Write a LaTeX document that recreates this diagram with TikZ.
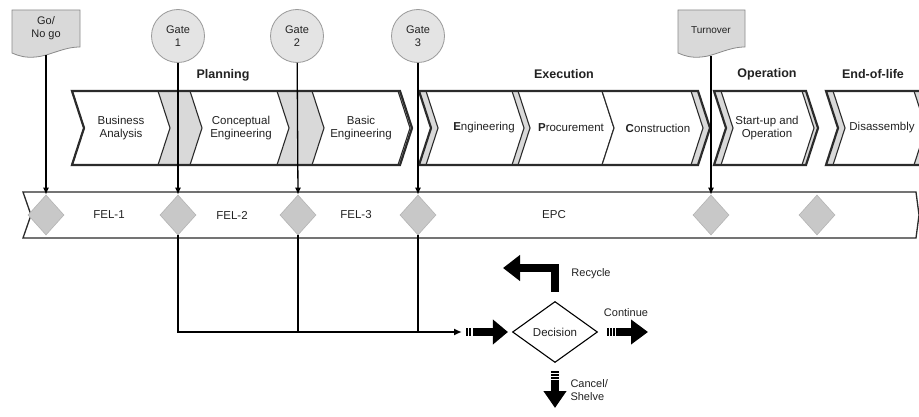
\documentclass[tikz,border=0pt]{standalone}
\usepackage{fontspec}
\setmainfont{Liberation Sans}
\usetikzlibrary{arrows.meta,shapes.geometric}
\definecolor{EdgeDark}{HTML}{2B2B2B}
\definecolor{GapGray}{HTML}{D9D9D9}
\definecolor{MarkGray}{HTML}{C8C8C8}
\definecolor{MarkBorder}{HTML}{B4B4B4}
\definecolor{GateFill}{HTML}{E4E4E4}
\definecolor{GateBorder}{HTML}{9A9A9A}
\definecolor{DocFill}{HTML}{D9D9D9}
\definecolor{DocBorder}{HTML}{8A8A8A}
\definecolor{TextColor}{HTML}{222222}
% chevron strip: style, left x, right x
\newcommand{\chevshape}[3]{%
	\path[#1] (#2,91) -- (#3,91) -- (#3+12,128) -- (#3,165) -- (#2,165) -- (#2+12,128) -- cycle;
}
% flowchart document sheet: left x, right x, top y, bottom y
\newcommand{\docshape}[4]{%
	\path[docbox] (#1,#3) -- (#2,#3) -- (#2,#4-6)
		.. controls ({#1+0.75*(#2-#1)},#4-6) and ({#1+0.55*(#2-#1)},#4+3) .. ({#1+0.35*(#2-#1)},#4+4)
		.. controls ({#1+0.2*(#2-#1)},#4+5) and ({#1+0.1*(#2-#1)},#4+3) .. (#1,#4) -- cycle;
}

\begin{document}
\begin{tikzpicture}[x=1pt,y=-1pt,
	every node/.style={text=TextColor},
	phasetext/.style={align=center, font=\fontsize{11.5}{13.5}\selectfont},
	grouplabel/.style={font=\bfseries\fontsize{12.5}{15}\selectfont},
	bandtext/.style={font=\fontsize{11.5}{13.5}\selectfont},
	sidetext/.style={font=\fontsize{11}{13}\selectfont},
	groupfill/.style={fill=GapGray},
	groupline/.style={draw=EdgeDark, line width=2.2pt, line join=miter},
	chevron/.style={fill=white, draw=EdgeDark, line width=1.1pt},
	milestone/.style={diamond, fill=MarkGray, draw=MarkBorder, line width=0.6pt, minimum width=36pt, minimum height=40pt, inner sep=0pt},
	gate/.style={circle, fill=GateFill, draw=GateBorder, line width=0.8pt, minimum size=53pt, inner sep=0pt, align=center, font=\fontsize{11}{13}\selectfont},
	docbox/.style={fill=DocFill, draw=DocBorder, line width=0.8pt},
	doctext/.style={align=center, inner sep=0pt},
	gateline/.style={draw=black, line width=1.3pt, -{Latex[length=7pt,width=6pt]}},
	busline/.style={draw=black, line width=2pt},
	blockarrow/.style={draw=black, line width=8pt, line join=miter},
	stripes/.style={dash pattern=on 1.5pt off 1.5pt on 1.5pt off 1.5pt on 1.5pt off 1.5pt on 400pt},
	twostripes/.style={dash pattern=on 1.5pt off 1.5pt on 1.5pt off 2.5pt on 400pt},
	decision/.style={diamond, draw=black, fill=white, line width=1.1pt, minimum width=85pt, minimum height=61pt, inner sep=0pt, aspect=1.4, font=\fontsize{11.5}{13.5}\selectfont}
]
	\useasboundingbox (0,0) rectangle (919,417);
	\clip (0,0) rectangle (919,417);
	\fill[white] (0,0) rectangle (919,417);

	% Phase strips
	\chevshape{groupfill}{72}{400}
	\chevshape{chevron}{72}{158}
	\chevshape{chevron}{190}{277}
	\chevshape{chevron}{312}{398}
	\chevshape{groupline}{72}{400}

	\chevshape{groupfill}{419}{698}
	\chevshape{chevron}{426}{512}
	\chevshape{chevron}{518}{602}
	\chevshape{chevron}{602}{691}
	\chevshape{groupline}{419}{698}

	\chevshape{groupfill}{714}{806}
	\chevshape{chevron}{721}{802}
	\chevshape{groupline}{714}{806}

	\chevshape{groupfill}{826}{925}
	\chevshape{chevron}{833}{914}
	\chevshape{groupline}{826}{925}

	\node[phasetext] (business) at (121,128) {Business\\Analysis};
	\node[phasetext] (conceptual) at (241,128) {Conceptual\\Engineering};
	\node[phasetext] (basic) at (361,128) {Basic\\Engineering};
	\node[phasetext] (engineering) at (484,128) {\textbf{E}ngineering};
	\node[phasetext] (procurement) at (571,128) {\textbf{P}rocurement};
	\node[phasetext] (construction) at (658,128) {\textbf{C}onstruction};
	\node[phasetext] (startup) at (767,128) {Start-up and\\Operation};
	\node[phasetext] (disassembly) at (882,128) {Disassembly};

	\node[grouplabel] (planning) at (223,75) {Planning};
	\node[grouplabel] (execution) at (564,74) {Execution};
	\node[grouplabel] (operation) at (767,74) {Operation};
	\node[grouplabel] (endoflife) at (873,74) {End-of-life};

	% Timeline band
	\draw[fill=white, draw=EdgeDark, line width=1.3pt] (23,192) -- (916,192) -- (919,215) -- (916,238) -- (23,238) -- (31,215) -- cycle;
	\node[bandtext] (fel1) at (109,215) {FEL-1};
	\node[bandtext] (fel2) at (232,215) {FEL-2};
	\node[bandtext] (fel3) at (356,215) {FEL-3};
	\node[bandtext] (epc) at (554,215) {EPC};

	\node[milestone] (d0) at (46,215) {};
	\node[milestone] (d1) at (178,215) {};
	\node[milestone] (d2) at (298,215) {};
	\node[milestone] (d3) at (418,215) {};
	\node[milestone] (d4) at (711,215) {};
	\node[milestone] (d5) at (817,215) {};

	% Gates and hand-over sheets
	\docshape{12}{80}{10}{53}
	\docshape{678}{745}{10}{53}
	\node[doctext, font=\fontsize{11}{13.5}\selectfont, minimum height=54pt] (gonogo) at (46,28) {Go/\\No go};
	\node[doctext, font=\fontsize{10}{12}\selectfont, minimum height=52pt] (turnover) at (711,30) {Turnover};

	\node[gate] (g1) at (178,36) {Gate\\1};
	\node[gate] (g2) at (297,36) {Gate\\2};
	\node[gate] (g3) at (418,36) {Gate\\3};

	\draw[gateline] (gonogo.south) -- (d0.north);
	\draw[gateline] (g1) -- (d1.north);
	\draw[gateline] (g2) -- (d2.north);
	\draw[gateline] (g3) -- (d3.north);
	\draw[gateline] (turnover.south) -- (d4.north);

	% Gate decision
	\node[decision] (dec) at (555,332) {Decision};
	\coordinate (merge) at (462,332);
	\coordinate (recycleEnd) at (503,268);
	\coordinate (continueEnd) at (648,332);
	\coordinate (cancelEnd) at (555,408);

	\draw[busline, -{Latex[length=8pt,width=7pt]}] (d1.south) |- (merge);
	\draw[busline] (d2.south) -- (d2.south |- merge);
	\draw[busline] (d3.south) -- (d3.south |- merge);
	\draw[blockarrow, twostripes, -{Triangle[length=15pt,width=24pt]}, shorten <=4pt, shorten >=4pt] (merge) -- (dec.west);
	\draw[blockarrow, -{Triangle[length=17pt,width=25pt]}, shorten <=9pt] (dec.north) |- (recycleEnd);
	\draw[blockarrow, stripes, -{Triangle[length=17pt,width=24pt]}, shorten <=9pt] (dec.east) -- (continueEnd);
	\draw[blockarrow, stripes, -{Triangle[length=17pt,width=22pt]}, shorten <=8pt] (dec.south) -- (cancelEnd);

	\node[sidetext] (recycle) at (591,274) {Recycle};
	\node[sidetext] (continue) at (626,313) {Continue};
	\node[sidetext, anchor=west, align=left] (cancel) at (567,390) {Cancel/\\Shelve};
\end{tikzpicture}
\end{document}
